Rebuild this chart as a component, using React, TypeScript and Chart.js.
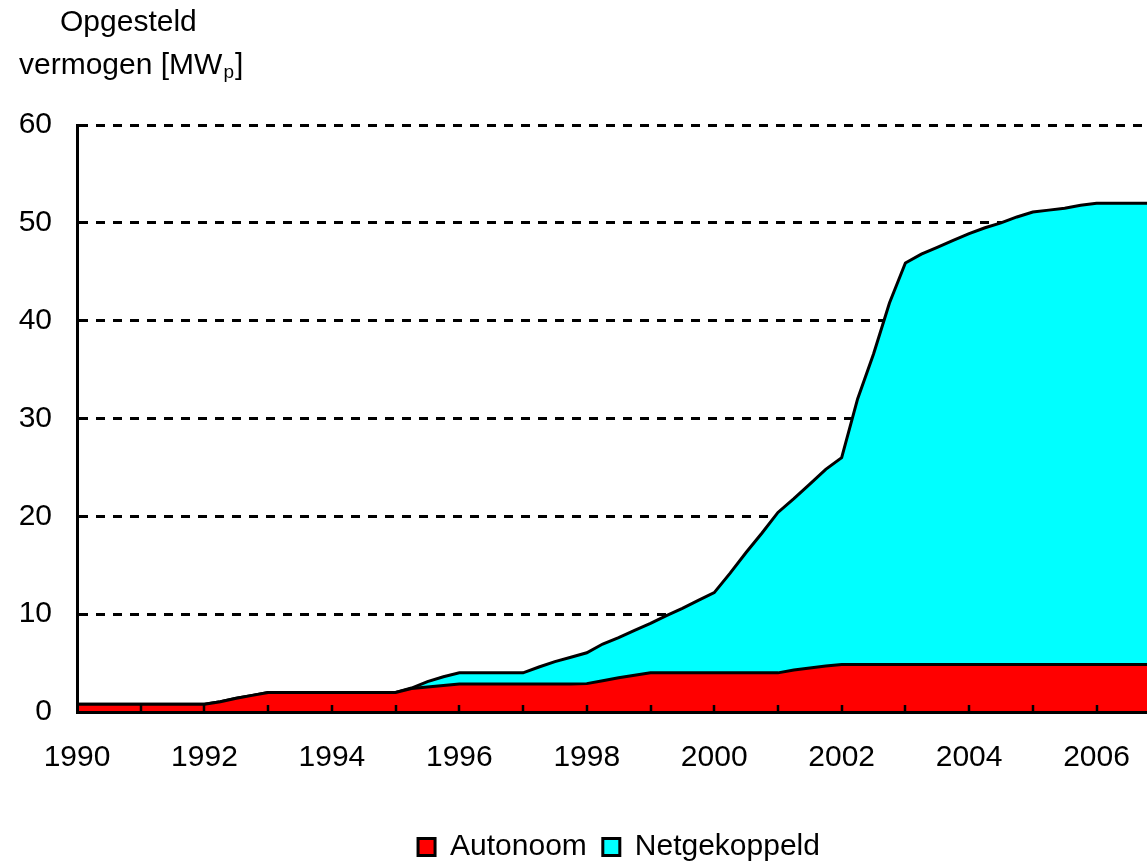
import React, { useEffect, useRef } from "react";
import { Chart, registerables } from "chart.js";

Chart.register(...registerables);

// Quarterly points
const quarters = [
  1990, 1990.25, 1990.5, 1990.75,
  1991, 1991.25, 1991.5, 1991.75,
  1992, 1992.25, 1992.5, 1992.75,
  1993, 1993.25, 1993.5, 1993.75,
  1994, 1994.25, 1994.5, 1994.75,
  1995, 1995.25, 1995.5, 1995.75,
  1996, 1996.25, 1996.5, 1996.75,
  1997, 1997.25, 1997.5, 1997.75,
  1998, 1998.25, 1998.5, 1998.75,
  1999, 1999.25, 1999.5, 1999.75,
  2000, 2000.25, 2000.5, 2000.75,
  2001, 2001.25, 2001.5, 2001.75,
  2002, 2002.25, 2002.5, 2002.75,
  2003, 2003.25, 2003.5, 2003.75,
  2004, 2004.25, 2004.5, 2004.75,
  2005, 2005.25, 2005.5, 2005.75,
  2006, 2006.25, 2006.5, 2006.75,
  2007,
];

const autonoom = [
  0.8, 0.8, 0.8, 0.8,
  0.8, 0.8, 0.8, 0.8,
  0.8, 1.05, 1.4, 1.7,
  2.0, 2.0, 2.0, 2.0,
  2.0, 2.0, 2.0, 2.0,
  2.0, 2.4, 2.55, 2.7,
  2.85, 2.85, 2.85, 2.85,
  2.85, 2.85, 2.85, 2.85,
  2.9, 3.2, 3.5, 3.75,
  4.0, 4.0, 4.0, 4.0,
  4.0, 4.0, 4.0, 4.0,
  4.0, 4.3, 4.5, 4.7,
  4.85, 4.85, 4.85, 4.85,
  4.85, 4.85, 4.85, 4.85,
  4.85, 4.85, 4.85, 4.85,
  4.85, 4.85, 4.85, 4.85,
  4.85, 4.85, 4.85, 4.85,
  4.85,
];

const netgekoppeld = [
  0, 0, 0, 0,
  0, 0, 0, 0,
  0, 0, 0, 0,
  0, 0, 0, 0,
  0, 0, 0, 0,
  0, 0.05, 0.55, 0.9,
  1.15, 1.15, 1.15, 1.15,
  1.15, 1.75, 2.3, 2.75,
  3.15, 3.75, 4.1, 4.6,
  5.05, 5.85, 6.6, 7.4,
  8.2, 10.2, 12.3, 14.3,
  16.4, 17.5, 18.8, 20.1,
  21.15, 27.15, 31.75, 36.95,
  41.05, 41.95, 42.65, 43.35,
  44.05, 44.65, 45.15, 45.75,
  46.25, 46.45, 46.65, 46.95,
  47.15, 47.15, 47.15, 47.15,
  47.15,
];

const seriesNames = ["Autonoom", "Netgekoppeld"];
const seriesColors = ["#ff0000", "#00ffff"];
const xLabelYears = [1990, 1992, 1994, 1996, 1998, 2000, 2002, 2004, 2006];
const yTickValues = [0, 10, 20, 30, 40, 50, 60];
const titleLine1 = "Opgesteld";
const titleLine2 = "vermogen [MW";
const titleSub = "p";
const titleEnd = "]";

const FONT = "'Liberation Sans', Arial, Helvetica, sans-serif";

export default function App() {
  const canvasRef = useRef<HTMLCanvasElement>(null);

  useEffect(() => {
    const canvas = canvasRef.current;
    if (!canvas) return;

    const decor = {
      id: "decor",
      afterDraw(chart: any) {
        const { ctx, chartArea, scales } = chart;
        const xs = scales.x;
        ctx.save();
        // inner tick marks on the x axis, one per year
        ctx.strokeStyle = "#000";
        ctx.lineWidth = 2.5;
        for (const t of xs.ticks) {
          if (t.value <= xs.min || !Number.isInteger(t.value)) continue;
          const px = Math.round(xs.getPixelForValue(t.value));
          ctx.beginPath();
          ctx.moveTo(px, chartArea.bottom);
          ctx.lineTo(px, chartArea.bottom - 7);
          ctx.stroke();
        }
        // axis title in the top-left corner
        ctx.fillStyle = "#000";
        ctx.textAlign = "left";
        ctx.textBaseline = "alphabetic";
        ctx.font = `30px ${FONT}`;
        ctx.fillText(titleLine1, 60, 31);
        let x = 19;
        ctx.fillText(titleLine2, x, 74);
        x += ctx.measureText(titleLine2).width + 1;
        ctx.font = `19px ${FONT}`;
        ctx.fillText(titleSub, x, 78);
        x += ctx.measureText(titleSub).width + 1;
        ctx.font = `30px ${FONT}`;
        ctx.fillText(titleEnd, x, 74);
        ctx.restore();
      },
    };

    const chart = new Chart(canvas, {
      type: "line",
      data: {
        datasets: [
          {
            label: seriesNames[0],
            data: quarters.map((q, i) => ({ x: q, y: autonoom[i] })),
            backgroundColor: seriesColors[0],
            borderColor: "#000",
            borderWidth: 3,
            fill: "origin",
            pointRadius: 0,
            tension: 0,
          },
          {
            label: seriesNames[1],
            data: quarters.map((q, i) => ({ x: q, y: netgekoppeld[i] })),
            backgroundColor: seriesColors[1],
            borderColor: "#000",
            borderWidth: 3,
            fill: "-1",
            pointRadius: 0,
            tension: 0,
          },
        ],
      },
      options: {
        animation: false,
        responsive: true,
        maintainAspectRatio: false,
        layout: { padding: { top: 125, right: 0, bottom: 0, left: 0 } },
        plugins: {
          tooltip: { enabled: false },
          title: { display: false },
          legend: {
            position: "bottom",
            align: "center",
            labels: {
              boxWidth: 17,
              boxHeight: 17,
              padding: 16,
              color: "#000",
              font: { size: 30, family: FONT },
            },
          },
        },
        scales: {
          x: {
            type: "linear",
            min: 1990,
            max: 2008,
            grid: { display: false, drawTicks: false },
            border: { display: true, color: "#000", width: 3, z: 1 },
            ticks: {
              stepSize: 1,
              autoSkip: false,
              maxRotation: 0,
              minRotation: 0,
              padding: 28,
              color: "#000",
              font: { size: 30, family: FONT },
              callback: (v: any) => (xLabelYears.includes(Number(v)) ? String(v) : ""),
            },
            afterFit: (s: any) => {
              s.height = 104;
              s.paddingLeft = 0;
              s.paddingRight = 14;
            },
          },
          y: {
            type: "linear",
            stacked: true,
            min: 0,
            max: 60,
            grid: { color: "#000", lineWidth: 3, drawTicks: false },
            border: { display: true, color: "#000", width: 3, dash: [9, 8], z: 1 },
            afterBuildTicks: (s: any) => {
              s.ticks = yTickValues.map((v) => ({ value: v }));
            },
            ticks: {
              padding: 25,
              color: "#000",
              font: { size: 30, family: FONT },
            },
            afterFit: (s: any) => {
              s.width = 77;
            },
          },
        },
      },
      plugins: [decor],
    });

    return () => chart.destroy();
  }, []);

  return (
    <div
      style={{
        position: "fixed",
        left: 0,
        top: 0,
        width: "1147px",
        height: "861px",
        overflow: "hidden",
        background: "#fff",
      }}
    >
      <div style={{ position: "relative", width: "1238px", height: "872px" }}>
        <canvas ref={canvasRef} />
      </div>
    </div>
  );
}
